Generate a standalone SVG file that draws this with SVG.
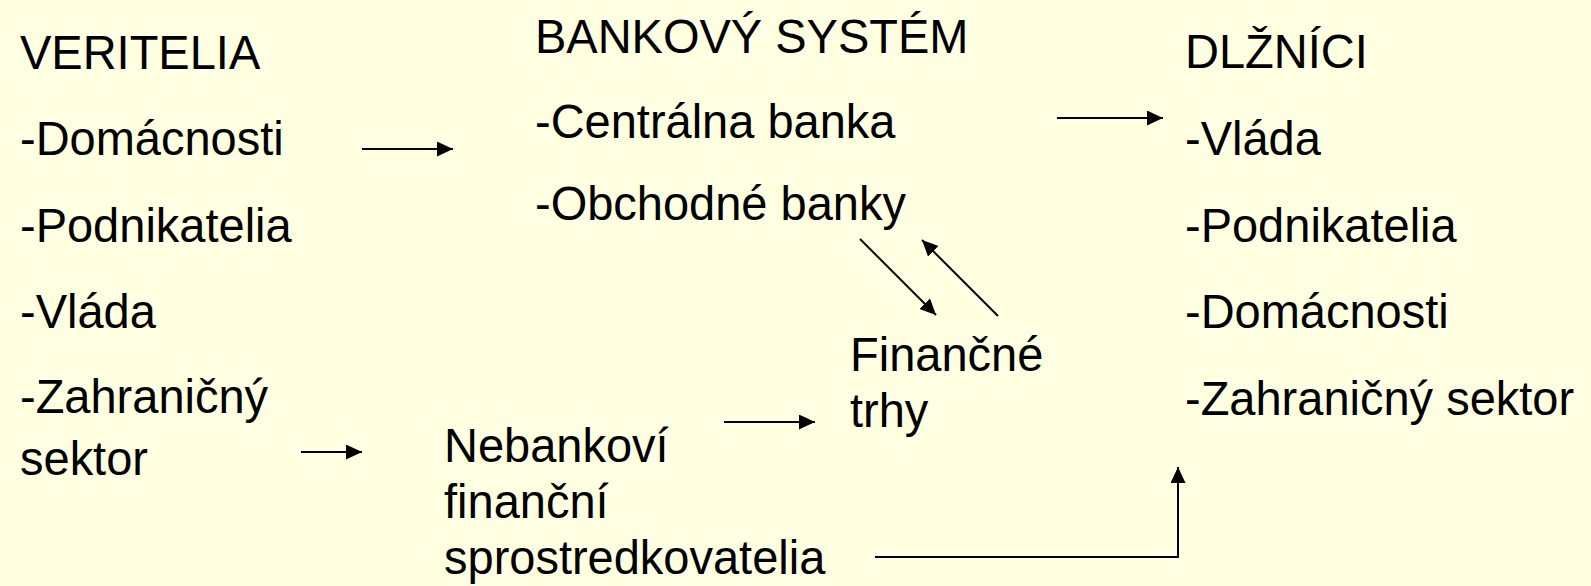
<svg xmlns="http://www.w3.org/2000/svg" width="1591" height="586" viewBox="0 0 1591 586">
<style>
text{font-family:"Liberation Sans",Arial,sans-serif;font-size:47px;fill:#000}
.c line,.c path{stroke:#000;stroke-width:2;fill:none}
</style>
<defs>
<marker id="ah" markerUnits="userSpaceOnUse" markerWidth="17" markerHeight="16" refX="16" refY="7.5" orient="auto">
<path d="M0,0 L16,7.5 L0,15 z" fill="#000"/>
</marker>
</defs>
<rect width="1591" height="586" fill="#FFFFE1"/>
<g id="veritelia">
<text transform="translate(20,69) scale(1,1.04)">VERITELIA</text>
<text transform="translate(20,155) scale(1,1.04)">-Domácnosti</text>
<text transform="translate(20,242) scale(1,1.04)">-Podnikatelia</text>
<text transform="translate(20,328) scale(1,1.04)">-Vláda</text>
<text transform="translate(20,413) scale(1,1.04)">-Zahraničný</text>
<text transform="translate(20,475) scale(1,1.04)">sektor</text>
</g>
<g id="bankovy-system">
<text transform="translate(535,53) scale(1,1.04)">BANKOVÝ SYSTÉM</text>
<text transform="translate(535,138) scale(1,1.04)">-Centrálna banka</text>
<text transform="translate(535,220) scale(1,1.04)">-Obchodné banky</text>
</g>
<g id="financne-trhy">
<text transform="translate(850,371) scale(1,1.04)">Finančné</text>
<text transform="translate(850,427) scale(1,1.04)">trhy</text>
</g>
<g id="nebankovi">
<text transform="translate(444,462) scale(1,1.04)">Nebankoví</text>
<text transform="translate(444,518) scale(1,1.04)">finanční</text>
<text transform="translate(444,574) scale(1,1.04)">sprostredkovatelia</text>
</g>
<g id="dlznici">
<text transform="translate(1185,68) scale(1,1.04)">DLŽNÍCI</text>
<text transform="translate(1185,155) scale(1,1.04)">-Vláda</text>
<text transform="translate(1185,242) scale(1,1.04)">-Podnikatelia</text>
<text transform="translate(1185,328) scale(1,1.04)">-Domácnosti</text>
<text transform="translate(1185,415) scale(1,1.04)">-Zahraničný sektor</text>
</g>
<g id="connectors" class="c">
<line x1="362" y1="149" x2="453" y2="149" marker-end="url(#ah)"/>
<line x1="1057" y1="118" x2="1163" y2="118" marker-end="url(#ah)"/>
<line x1="724" y1="422" x2="815" y2="422" marker-end="url(#ah)"/>
<line x1="301" y1="452" x2="362" y2="452" marker-end="url(#ah)"/>
<line x1="860" y1="239" x2="936" y2="315" marker-end="url(#ah)"/>
<line x1="998" y1="316" x2="922" y2="240" marker-end="url(#ah)"/>
<path d="M875,557 H1178 V467" marker-end="url(#ah)"/>
</g>
</svg>
